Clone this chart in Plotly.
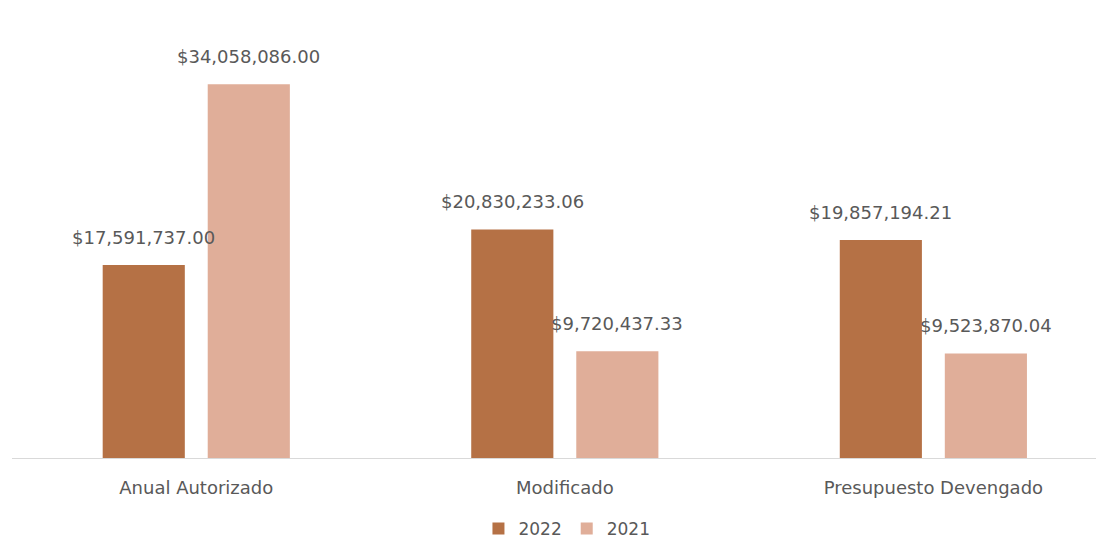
import plotly.graph_objects as go

categories = ["Anual Autorizado", "Modificado", "Presupuesto Devengado"]
series_names = ["2022", "2021"]
values_2022 = [17591737.00, 20830233.06, 19857194.21]
values_2021 = [34058086.00, 9720437.33, 9523870.04]

colors = {"2022": "#B57145", "2021": "#E0AE99"}
text_color = "#595959"
font_family = "DejaVu Sans"

fig = go.Figure()
fig.add_trace(go.Bar(name="2022", x=categories, y=values_2022,
                     marker=dict(color=colors["2022"], line=dict(width=0))))
fig.add_trace(go.Bar(name="2021", x=categories, y=values_2021,
                     marker=dict(color=colors["2021"], line=dict(width=0))))

slot = 0.285
annotations = []
for k, (name, vals) in enumerate([("2022", values_2022), ("2021", values_2021)]):
    off = (-0.5 + k) * slot
    for i, v in enumerate(vals):
        annotations.append(dict(
            x=i + off, y=v, xref="x", yref="y",
            text=f"${v:,.2f}", showarrow=False,
            yanchor="bottom", yshift=15,
            font=dict(family=font_family, size=18, color=text_color)))

fig.update_layout(
    width=1096, height=537,
    margin=dict(l=4, r=0, t=11, b=87),
    paper_bgcolor="white", plot_bgcolor="white",
    barmode="group", bargap=0.43, bargroupgap=0.218,
    showlegend=True,
    legend=dict(orientation="h", xref="container", yref="container",
                x=0.51, xanchor="center", y=0.03, yanchor="middle",
                font=dict(family=font_family, size=17, color=text_color),
                itemwidth=30, traceorder="normal"),
    annotations=annotations,
    xaxis=dict(range=[-0.5, 2.463], showline=True, linecolor="#D9D9D9", linewidth=1,
               ticks="outside", ticklen=13, tickcolor="rgba(0,0,0,0)",
               tickfont=dict(family=font_family, size=18, color=text_color),
               showgrid=False, zeroline=False),
    yaxis=dict(range=[0, 40000000], visible=False, showgrid=False, zeroline=False),
)

fig.write_html("out.html")
